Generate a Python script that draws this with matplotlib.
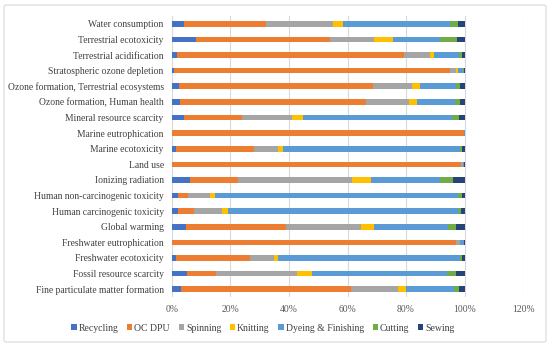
import matplotlib.pyplot as plt
from matplotlib.patches import FancyBboxPatch
from matplotlib.ticker import PercentFormatter

categories = [
    "Water consumption",
    "Terrestrial ecotoxicity",
    "Terrestrial acidification",
    "Stratospheric ozone depletion",
    "Ozone formation, Terrestrial ecosystems",
    "Ozone formation, Human health",
    "Mineral resource scarcity",
    "Marine eutrophication",
    "Marine ecotoxicity",
    "Land use",
    "Ionizing radiation",
    "Human non-carcinogenic toxicity",
    "Human carcinogenic toxicity",
    "Global warming",
    "Freshwater eutrophication",
    "Freshwater ecotoxicity",
    "Fossil resource scarcity",
    "Fine particulate matter formation",
]

stages = ["Recycling", "OC DPU", "Spinning", "Knitting",
          "Dyeing & Finishing", "Cutting", "Sewing"]

# shares in %, same order as categories
recycling = [4.0, 8.1, 1.7, 0.6, 2.5, 2.8, 4.1, 0.05, 1.5, 0.1, 6.0, 1.9, 1.9, 4.9, 0.1, 1.5, 5.2, 3.2]
oc_dpu    = [28.0, 45.8, 77.5, 94.5, 66.1, 63.6, 20.0, 99.6, 26.6, 98.8, 16.4, 3.6, 5.7, 34.1, 96.9, 25.2, 9.8, 58.1]
spinning  = [22.9, 15.1, 9.1, 2.1, 13.6, 14.7, 16.8, 0.1, 8.1, 0.5, 39.1, 7.5, 9.6, 25.5, 1.5, 8.0, 27.9, 15.9]
knitting  = [3.6, 6.6, 1.4, 0.4, 2.5, 2.6, 3.9, 0.0, 1.7, 0.05, 6.5, 1.8, 1.9, 4.6, 0.1, 1.6, 5.0, 2.9]
dyeing    = [36.4, 16.0, 8.5, 1.9, 12.3, 12.9, 50.9, 0.25, 60.4, 0.5, 23.6, 83.1, 78.6, 25.2, 1.2, 62.0, 46.2, 16.3]
cutting   = [2.7, 5.9, 0.9, 0.3, 1.6, 1.9, 2.5, 0.0, 0.8, 0.03, 4.5, 1.2, 1.2, 2.9, 0.1, 0.8, 3.1, 1.8]
sewing    = [2.4, 2.5, 0.9, 0.2, 1.4, 1.5, 1.8, 0.0, 0.9, 0.02, 3.9, 0.9, 1.1, 2.8, 0.1, 0.9, 2.8, 1.8]

colors = ["#4472C4", "#ED7D31", "#A5A5A5", "#FFC000", "#5B9BD5", "#70AD47", "#264478"]

plt.rcParams['font.family'] = ['Liberation Serif', 'DejaVu Serif']

fig = plt.figure(figsize=(5.5, 3.49), dpi=100)
ax = fig.add_axes([0.3127, 0.149, 0.6383, 0.805])

series = [recycling, oc_dpu, spinning, knitting, dyeing, cutting, sewing]
y = list(range(len(categories)))
left = [0.0] * len(categories)
for name, vals, col in zip(stages, series, colors):
    ax.barh(y, vals, left=left, height=0.36, color=col, label=name, zorder=3)
    left = [a + b for a, b in zip(left, vals)]

ax.set_ylim(len(categories) - 0.5, -0.5)
ax.set_yticks(y)
ax.set_yticklabels(categories, fontsize=6.9, color="#404040")
ax.set_xlim(0, 120)
ax.set_xticks(range(0, 121, 20))
ax.xaxis.set_major_formatter(PercentFormatter(decimals=0))
ax.tick_params(axis='x', labelsize=6.9, colors="#595959", length=0, pad=6)
ax.tick_params(axis='y', length=0, pad=6)
ax.grid(axis='x', color="#D9D9D9", linewidth=0.8, zorder=0)
for s in ax.spines.values():
    s.set_visible(False)

fig.legend(loc='center', bbox_to_anchor=(0.478, 0.06), ncol=7, frameon=False,
           fontsize=7.0, handlelength=0.55, handleheight=0.55, handletextpad=0.2,
           columnspacing=0.9, labelcolor="#404040")

border = FancyBboxPatch((4 / 550, 7 / 349), 542 / 550, 337 / 349,
                        boxstyle="round,pad=0,rounding_size=0.005",
                        transform=fig.transFigure, fill=False,
                        edgecolor="#D9D9D9", linewidth=0.8)
fig.patches.append(border)

fig.savefig("out.png", dpi=100)
